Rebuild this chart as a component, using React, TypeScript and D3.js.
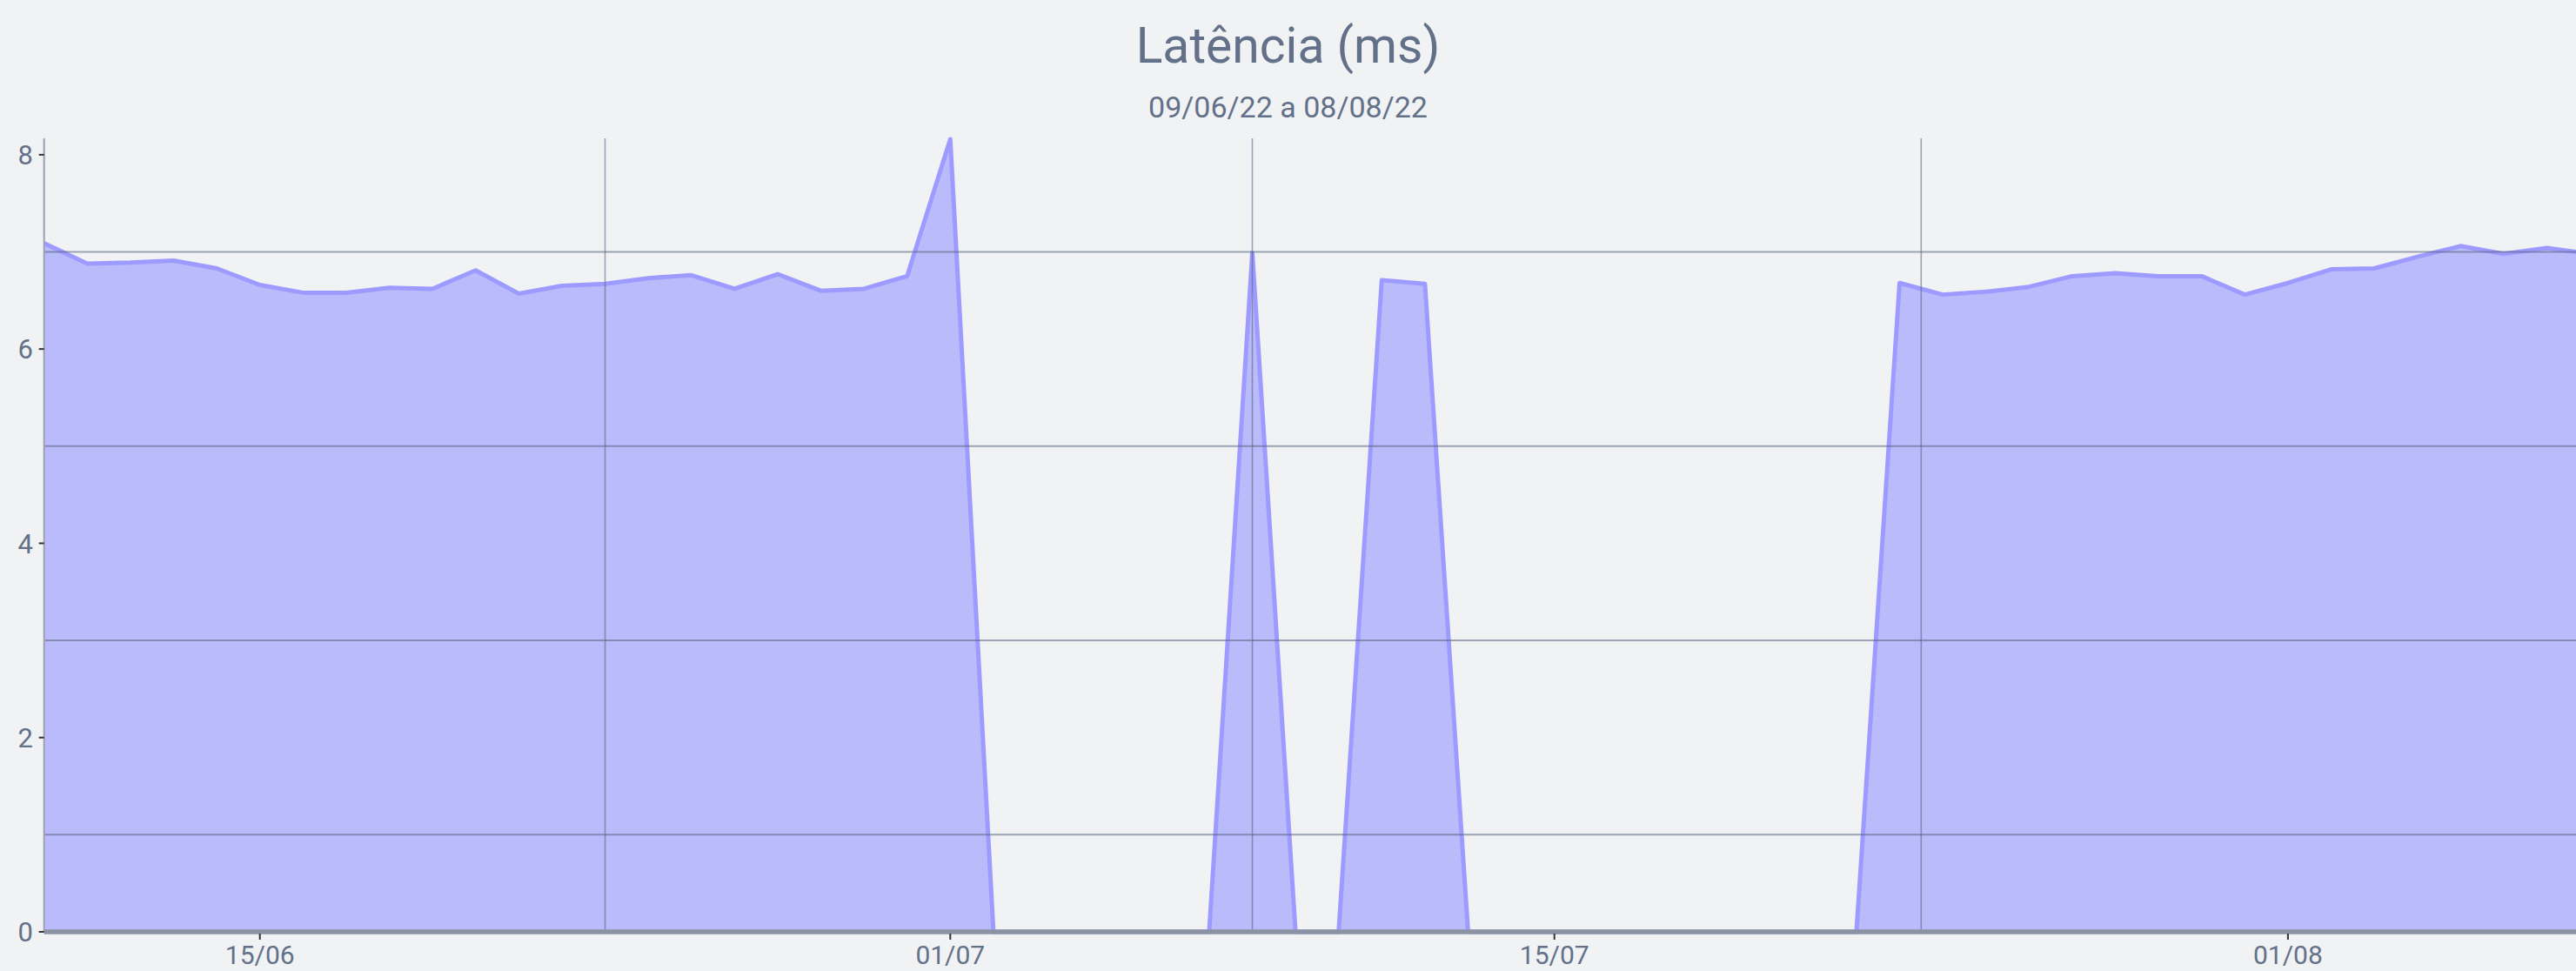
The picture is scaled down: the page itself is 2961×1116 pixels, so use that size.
import React, { useRef, useEffect } from 'react'
import * as d3 from 'd3'

// latência diária (ms), de 10/06/22 a 08/08/22 — zero = sem medição
const latencia = [
  7.09, 6.88, 6.89, 6.91, 6.83, 6.66, 6.58, 6.58, 6.63, 6.62, 6.81, 6.57, 6.65, 6.67,
  6.73, 6.76, 6.62, 6.77, 6.60, 6.62, 6.75, 8.16,
  0, 0, 0, 0, 0, 0,
  6.99, 0, 0, 6.71, 6.67,
  0, 0, 0, 0, 0, 0, 0, 0, 0, 0,
  6.68, 6.56, 6.59, 6.64, 6.75, 6.78, 6.75, 6.75, 6.56, 6.68, 6.82, 6.83, 6.95, 7.06,
  6.98, 7.04, 6.98
]
const primeiroDia = new Date(2022, 5, 10)
const ultimoDia = new Date(2022, 7, 8)

const xTicks = [new Date(2022, 5, 15), new Date(2022, 6, 1), new Date(2022, 6, 15), new Date(2022, 7, 1)]
const yTicks = [0, 2, 4, 6, 8]

const titulo = 'Latência (ms)'
const subtitulo = '09/06/22 a 08/08/22'

const W = 2961
const H = 1116

export default function App() {
  const canvas = useRef<SVGSVGElement>(null)

  useEffect(() => {
    const svg = d3.select(canvas.current)
    svg.selectAll('*').remove()

    const left = 50.7
    const top = 160
    const bottom = 1071
    const pxDay = 49.6

    const dias = d3.timeDay.range(primeiroDia, d3.timeDay.offset(ultimoDia, 1))
    const data = dias.map((d, i) => ({ date: d, v: latencia[i] }))

    const x = d3.scaleTime()
      .domain([primeiroDia, ultimoDia])
      .range([left, left + pxDay * (dias.length - 1)])
    const y = d3.scaleLinear()
      .domain([0, d3.max(latencia) as number])
      .range([bottom, top])

    svg.append('rect').attr('width', W).attr('height', H).attr('fill', '#f1f2f4')

    const font = 'Roboto, "Helvetica Neue", Arial, sans-serif'
    const txt = '#627189'

    svg.append('text')
      .attr('x', W / 2).attr('y', 72)
      .attr('text-anchor', 'middle')
      .attr('font-family', font).attr('font-size', 57)
      .attr('fill', txt)
      .text(titulo)

    svg.append('text')
      .attr('x', W / 2).attr('y', 135)
      .attr('text-anchor', 'middle')
      .attr('font-family', font).attr('font-size', 34)
      .attr('fill', txt)
      .text(subtitulo)

    // area + line
    const area = d3.area<{ date: Date, v: number }>()
      .x(d => x(d.date)).y0(y(0)).y1(d => y(d.v))
    const line = d3.line<{ date: Date, v: number }>()
      .x(d => x(d.date)).y(d => y(d.v))

    svg.append('path').datum(data)
      .attr('d', area)
      .attr('fill', '#b9bbfa')
    svg.append('path').datum(data)
      .attr('d', line)
      .attr('fill', 'none')
      .attr('stroke', '#9d9bff')
      .attr('stroke-width', 5)
      .attr('stroke-linejoin', 'round')

    // grid lines sit halfway between ticks
    const grid = svg.append('g')
      .attr('stroke', '#56657d')
      .attr('stroke-opacity', 0.55)
    d3.pairs(yTicks).forEach(([a, b]) => {
      const gy = y((a + b) / 2)
      grid.append('line')
        .attr('x1', left).attr('x2', W)
        .attr('y1', gy).attr('y2', gy)
        .attr('stroke-width', 2)
    })
    d3.pairs(xTicks).forEach(([a, b]) => {
      const gx = x(new Date((a.getTime() + b.getTime()) / 2))
      grid.append('line')
        .attr('x1', gx).attr('x2', gx)
        .attr('y1', top - 1).attr('y2', bottom)
        .attr('stroke-width', 1.6)
    })

    // axes
    svg.append('line')
      .attr('x1', left).attr('x2', left)
      .attr('y1', top - 1).attr('y2', bottom)
      .attr('stroke', '#9aa2b0').attr('stroke-width', 2)
    svg.append('line')
      .attr('x1', left).attr('x2', W)
      .attr('y1', bottom).attr('y2', bottom)
      .attr('stroke', '#8b93a3').attr('stroke-width', 5.5)

    const yAxis = svg.append('g')
    yTicks.forEach(t => {
      yAxis.append('line')
        .attr('x1', left - 6).attr('x2', left)
        .attr('y1', y(t)).attr('y2', y(t))
        .attr('stroke', '#333').attr('stroke-width', 2)
      yAxis.append('text')
        .attr('x', 38).attr('y', y(t))
        .attr('dy', '0.36em')
        .attr('text-anchor', 'end')
        .attr('font-family', font).attr('font-size', 31)
        .attr('fill', txt)
        .text(t)
    })

    const fmt = d3.timeFormat('%d/%m')
    const xAxis = svg.append('g')
    xTicks.forEach(t => {
      xAxis.append('line')
        .attr('x1', x(t)).attr('x2', x(t))
        .attr('y1', bottom + 2).attr('y2', bottom + 9)
        .attr('stroke', '#333').attr('stroke-width', 2)
      xAxis.append('text')
        .attr('x', x(t)).attr('y', 1108)
        .attr('text-anchor', 'middle')
        .attr('font-family', font).attr('font-size', 30)
        .attr('fill', txt)
        .text(fmt(t))
    })
  }, [])

  return (
    <svg
      ref={canvas}
      width={W}
      height={H}
      style={{ position: 'absolute', left: 0, top: 0, display: 'block' }}
    />
  )
}
